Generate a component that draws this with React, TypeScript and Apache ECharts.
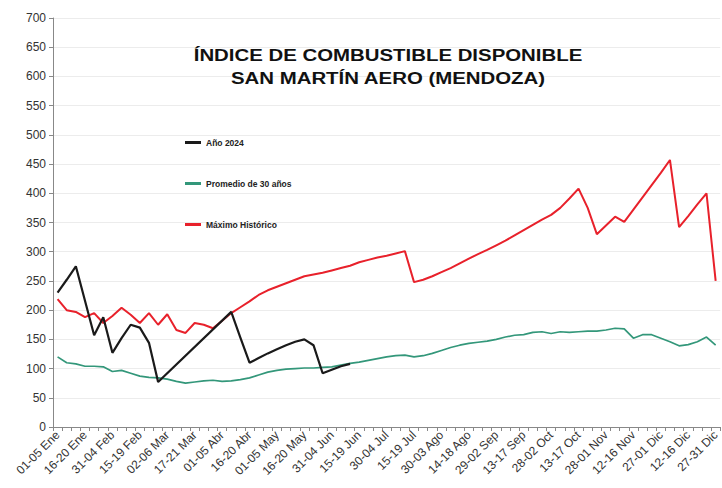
import React, { useEffect, useRef } from "react";
import * as echarts from "echarts";

const categories: string[] = [
  "01-05 Ene","06-10 Ene","11-15 Ene","16-20 Ene","21-25 Ene","26-30 Ene",
  "31-04 Feb","05-09 Feb","10-14 Feb","15-19 Feb","20-24 Feb","25-01 Mar",
  "02-06 Mar","07-11 Mar","12-16 Mar","17-21 Mar","22-26 Mar","27-31 Mar",
  "01-05 Abr","06-10 Abr","11-15 Abr","16-20 Abr","21-25 Abr","26-30 Abr",
  "01-05 May","06-10 May","11-15 May","16-20 May","21-25 May","26-30 May",
  "31-04 Jun","05-09 Jun","10-14 Jun","15-19 Jun","20-24 Jun","25-29 Jun",
  "30-04 Jul","05-09 Jul","10-14 Jul","15-19 Jul","20-24 Jul","25-29 Jul",
  "30-03 Ago","04-08 Ago","09-13 Ago","14-18 Ago","19-23 Ago","24-28 Ago",
  "29-02 Sep","03-07 Sep","08-12 Sep","13-17 Sep","18-22 Sep","23-27 Sep",
  "28-02 Oct","03-07 Oct","08-12 Oct","13-17 Oct","18-22 Oct","23-27 Oct",
  "28-01 Nov","02-06 Nov","07-11 Nov","12-16 Nov","17-21 Nov","22-26 Nov",
  "27-01 Dic","02-06 Dic","07-11 Dic","12-16 Dic","17-21 Dic","22-26 Dic",
  "27-31 Dic"
];

const year2024: (number | null)[] = [
  230, 252, 275, 216, 157, 188, 127, 152, 175, 170, 144, 77,
  null, null, null, null, null, null, null,
  197, 153, 110, 118, 126, 133, 140, 146, 150, 140, 92, 98, 104, 108
];

const promedio30: number[] = [
  120, 110, 108, 104, 104, 103, 95, 97, 92, 87, 85, 84,
  82, 78, 75, 77, 79, 80, 78, 79, 81, 84, 89, 94,
  97, 99, 100, 101, 101, 102, 103, 106, 109, 111, 114, 117,
  120, 122, 123, 120, 122, 126, 131, 136, 140, 143, 145, 147,
  150, 154, 157, 158, 162, 163, 160, 163, 162, 163, 164, 164,
  166, 169, 168, 152, 158, 158, 152, 146, 139, 141, 146, 154,
  140
];

const maximoHistorico: number[] = [
  219, 200, 197, 188, 195, 178, 190, 204, 192, 178, 195, 175,
  193, 166, 161, 178, 175, 169, 182, 195, 205, 215, 226, 234,
  240, 246, 252, 258, 261, 264, 268, 272, 276, 282, 286, 290,
  293, 297, 301, 248, 252, 258, 265, 272, 280, 288, 296, 303,
  311, 319, 328, 337, 346, 355, 363, 375, 391, 408, 375, 330,
  345, 360, 351, 372, 393, 414, 435, 457, 342, 361, 381, 400,
  250
];

const seriesNames = ["Año 2024", "Promedio de 30 años", "Máximo Histórico"];
const titleLines = ["ÍNDICE DE COMBUSTIBLE DISPONIBLE", "SAN MARTÍN AERO (MENDOZA)"];

export default function App() {
  const ref = useRef<HTMLDivElement>(null);
  useEffect(() => {
    document.body.style.margin = "0";
    if (!ref.current) return;
    const chart = echarts.init(ref.current, null, { renderer: "svg" });
    const font = "'Liberation Sans', Arial, sans-serif";
    chart.setOption({
      animation: false,
      backgroundColor: "#ffffff",
      textStyle: { fontFamily: font },
      graphic: titleLines.map((t, i) => ({
        type: "text",
        x: 388,
        y: 55 + i * 23,
        scaleX: 1.2,
        z: 10,
        style: {
          text: t,
          font: `bold 17px ${font}`,
          fill: "#111",
          textAlign: "center",
          textVerticalAlign: "middle",
        },
      })),
      legend: {
        orient: "vertical",
        left: 180,
        top: 133,
        itemGap: 32,
        itemWidth: 16,
        itemHeight: 3,
        icon: "rect",
        data: seriesNames,
        textStyle: { fontFamily: font, fontSize: 8.5, fontWeight: "bold", color: "#222" },
      },
      grid: { left: 53, top: 18, width: 669, height: 409, containLabel: false },
      xAxis: {
        type: "category",
        data: categories,
        boundaryGap: true,
        axisLine: { lineStyle: { color: "#888", width: 1 } },
        axisTick: { show: true, interval: 0, length: 4, lineStyle: { color: "#888" } },
        axisLabel: {
          interval: 2,
          rotate: 45,
          fontSize: 12,
          color: "#333",
          fontFamily: font,
          margin: 6,
        },
        splitLine: { show: false },
      },
      yAxis: {
        type: "value",
        min: 0,
        max: 700,
        interval: 50,
        axisLine: { show: true, lineStyle: { color: "#888", width: 1 } },
        axisTick: { show: true, length: 4, lineStyle: { color: "#888" } },
        axisLabel: { fontSize: 12, color: "#333", fontFamily: font, margin: 7 },
        splitLine: { show: true, lineStyle: { color: "#ececec", width: 1 } },
      },
      series: [
        {
          name: seriesNames[0],
          type: "line",
          data: year2024,
          connectNulls: true,
          showSymbol: false,
          symbol: "none",
          lineStyle: { color: "#1a1a1a", width: 2.2 },
          itemStyle: { color: "#1a1a1a" },
          z: 4,
        },
        {
          name: seriesNames[1],
          type: "line",
          data: promedio30,
          showSymbol: false,
          symbol: "none",
          lineStyle: { color: "#33977a", width: 1.7 },
          itemStyle: { color: "#33977a" },
          z: 2,
        },
        {
          name: seriesNames[2],
          type: "line",
          data: maximoHistorico,
          showSymbol: false,
          symbol: "none",
          lineStyle: { color: "#e8212b", width: 2 },
          itemStyle: { color: "#e8212b" },
          z: 3,
        },
      ],
    });
    return () => chart.dispose();
  }, []);
  return <div ref={ref} style={{ width: 722, height: 488 }} />;
}
